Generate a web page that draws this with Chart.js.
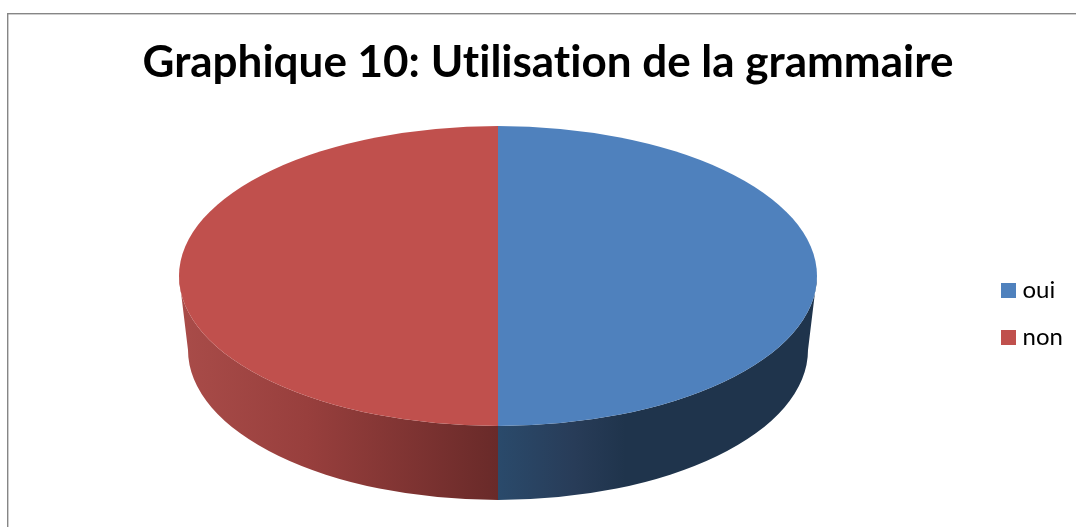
<!DOCTYPE html>
<html>
<head>
<meta charset="utf-8">
<style>html,body{margin:0;padding:0;background:#fff}canvas{display:block}</style>
<script src="https://cdn.jsdelivr.net/npm/chart.js@4/dist/chart.umd.min.js"></script>
</head>
<body>
<canvas id="c" width="1076" height="527"></canvas>
<script>
const categories = ['oui', 'non'];
const seriesValues = [50, 50];
const sliceColors = ['#4f81bd', '#c0504d'];
const titleText = 'Graphique 10: Utilisation de la grammaire';

const TOP = {cx: 498, cy: 276, rx: 319, ry: 150};
const BOT = {cx: 498, cy: 350, rx: 310, ry: 150};

function wallGradient(ctx, i) {
  const g = ctx.createLinearGradient(179, 0, 817, 0);
  if (i === 1) {
    g.addColorStop(0, '#a94c49');
    g.addColorStop(0.2, '#983f3d');
    g.addColorStop(0.5, '#692a29');
    g.addColorStop(1, '#692a29');
  } else {
    g.addColorStop(0, '#2a4a6b');
    g.addColorStop(0.5, '#2a4a6b');
    g.addColorStop(0.62, '#283c58');
    g.addColorStop(0.7, '#1f344c');
    g.addColorStop(1, '#1f344c');
  }
  return g;
}

const pie3d = {
  id: 'pie3d',
  afterLayout(chart) {
    chart.legend.left = 983.5;
    chart.legend.right = 1076;
    chart.legend.top = 255.5;
    chart.legend.bottom = 527;
  },
  beforeDraw(chart) {
    const ctx = chart.ctx;
    ctx.textRendering = 'optimizeSpeed';
    ctx.save();
    ctx.fillStyle = '#868686';
    ctx.fillRect(7, 13, 1069, 1.4);
    ctx.fillRect(7, 13, 1.4, 514);
    ctx.restore();
  },
  beforeDatasetsDraw(chart) {
    const ctx = chart.ctx;
    const arcs = chart.getDatasetMeta(0).data;
    arcs.forEach((arc, i) => {
      const a0 = Math.max(arc.startAngle, 0);
      const a1 = Math.min(arc.endAngle, Math.PI);
      if (a1 <= a0) return;
      ctx.save();
      ctx.beginPath();
      ctx.ellipse(TOP.cx, TOP.cy, TOP.rx, TOP.ry, 0, a0, a1);
      ctx.ellipse(BOT.cx, BOT.cy, BOT.rx, BOT.ry, 0, a1, a0, true);
      ctx.closePath();
      ctx.fillStyle = wallGradient(ctx, i);
      ctx.fill();
      ctx.restore();
    });
    const first = arcs[0];
    const R = first.outerRadius;
    ctx.save();
    ctx.translate(TOP.cx, TOP.cy);
    ctx.scale(TOP.rx / R, TOP.ry / R);
    ctx.translate(-first.x, -first.y);
  },
  afterDatasetsDraw(chart) {
    chart.ctx.restore();
  }
};

new Chart(document.getElementById('c'), {
  type: 'pie',
  plugins: [pie3d],
  data: {
    labels: categories,
    datasets: [{data: seriesValues, backgroundColor: sliceColors, borderWidth: 0}]
  },
  options: {
    responsive: false,
    animation: false,
    layout: {padding: {left: 20, right: 0, top: 0, bottom: 0}},
    plugins: {
      tooltip: {enabled: false},
      title: {
        display: true,
        text: titleText,
        color: '#000',
        font: {family: 'Lato', weight: 'bold', size: 44},
        padding: {top: 36, bottom: 36}
      },
      legend: {
        position: 'right',
        align: 'start',
        labels: {
          boxWidth: 4,
          boxHeight: 4,
          padding: 23,
          color: '#000',
          font: {family: 'Lato', size: 24},
          generateLabels(chart) {
            return Chart.overrides.pie.plugins.legend.labels.generateLabels(chart).map(l => ({
              ...l, lineWidth: 11, strokeStyle: l.fillStyle, lineJoin: 'miter'
            }));
          }
        }
      }
    }
  }
});
</script>
</body>
</html>
